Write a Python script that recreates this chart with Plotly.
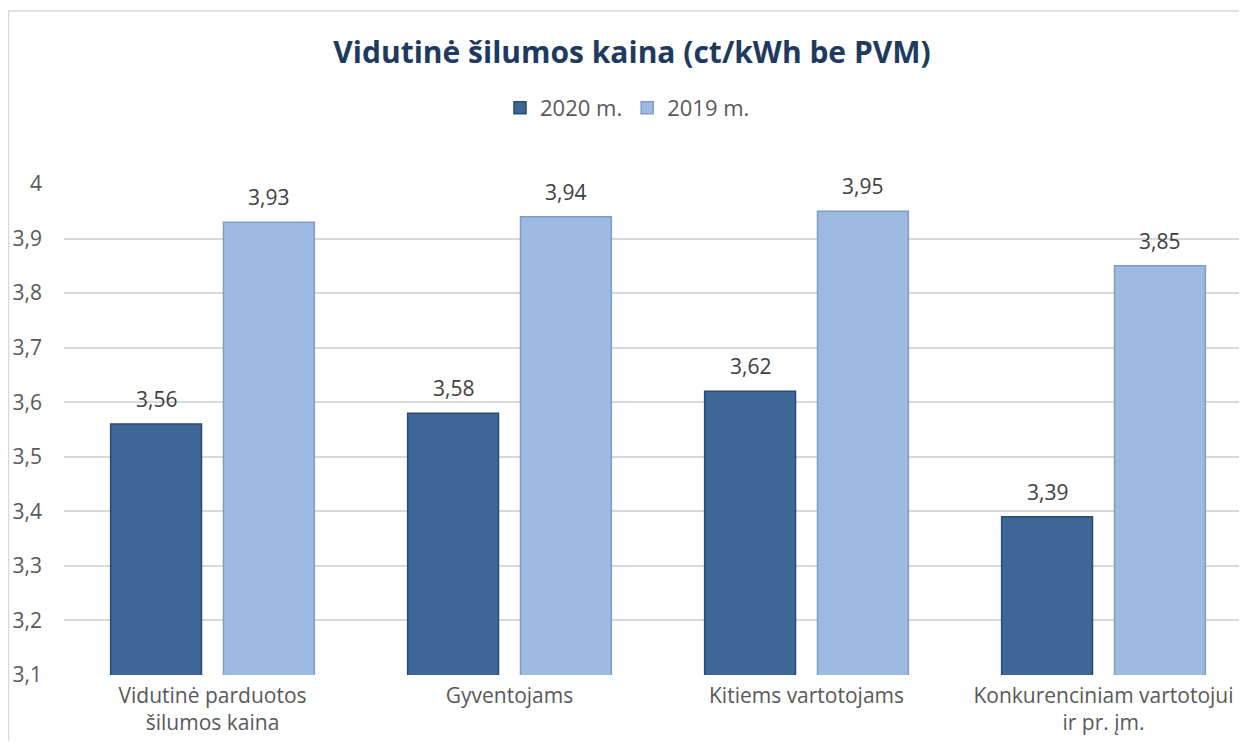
import plotly.graph_objects as go

categories = ["Vidutinė parduotos<br>šilumos kaina", "Gyventojams", "Kitiems vartotojams", "Konkurenciniam vartotojui<br>ir pr. įm."]
values_2020 = [3.56, 3.58, 3.62, 3.39]
values_2019 = [3.93, 3.94, 3.95, 3.85]
series_names = ["2020 m.", "2019 m."]
y_ticks = [3.1, 3.2, 3.3, 3.4, 3.5, 3.6, 3.7, 3.8, 3.9, 4.0]

# page has an 8px body margin; figure coordinates = page coordinates - 8
W, H = 1231, 733
ML, MR, MT, MB = 56, 0, 176, 66
pw = W - ML - MR
ph = H - MT - MB
CAT_PX = 297.0
SLOT_SHIFT = 0.19 * CAT_PX

FONT = "Open Sans"
label_font = dict(family=FONT, size=21, color="#404040")

fig = go.Figure()
fig.add_trace(go.Bar(
    name=series_names[0], x=categories, y=values_2020,
    marker=dict(color="#3D6797", line=dict(color="#2A4A72", width=1.5)),
))
fig.add_trace(go.Bar(
    name=series_names[1], x=categories, y=values_2019,
    marker=dict(color="#9DBAE1", line=dict(color="#7F9CC4", width=1.5)),
))

def fmt(v):
    return f"{v:.2f}".replace(".", ",")

for vals, sh in ((values_2020, -SLOT_SHIFT), (values_2019, SLOT_SHIFT)):
    for c, v in zip(categories, vals):
        fig.add_annotation(x=c, y=v, xref="x", yref="y", text=fmt(v), showarrow=False,
                           xshift=sh, yshift=9, yanchor="bottom", xanchor="center",
                           font=label_font)

def px2paper_x(px):
    return (px - ML) / pw

def px2paper_y(py):
    return (H - MB - py) / ph

fig.add_shape(type="rect", xref="paper", yref="paper",
              x0=px2paper_x(0.5), x1=px2paper_x(1300),
              y0=px2paper_y(800), y1=px2paper_y(3),
              line=dict(color="#D9D9D9", width=1.5), fillcolor="rgba(0,0,0,0)", layer="below")

fig.update_layout(
    width=W, height=H,
    margin=dict(l=ML, r=MR, t=MT, b=MB),
    paper_bgcolor="white", plot_bgcolor="white",
    separators=", ",
    barmode="group", bargap=0.24, bargroupgap=0.195,
    title=dict(text="<b>Vidutinė šilumos kaina (ct/kWh be PVM)</b>",
               x=624 / W, xref="container", xanchor="center",
               y=1 - 44 / H, yref="container", yanchor="middle",
               font=dict(family=FONT, size=30, color="#1F3A5F")),
    legend=dict(orientation="h", xref="container", x=492 / W, xanchor="left",
                yref="container", y=1 - 100 / H, yanchor="middle",
                font=dict(family=FONT, size=22, color="#595959"),
                itemwidth=30, tracegroupgap=0, traceorder="normal"),
    xaxis=dict(range=[-0.5, -0.5 + pw / CAT_PX], showgrid=False, showline=False,
               ticks="", tickfont=dict(family=FONT, size=21, color="#595959"),
               ticklabelstandoff=6, fixedrange=True, automargin=False),
    yaxis=dict(range=[3.1, 4.0], tickvals=y_ticks, showgrid=True,
               gridcolor="#D9D9D9", gridwidth=1.5, zeroline=False, showline=False,
               ticks="", tickfont=dict(family=FONT, size=21, color="#595959"),
               ticklabelstandoff=21, automargin=False),
    showlegend=True,
)

fig.write_html("out.html")
